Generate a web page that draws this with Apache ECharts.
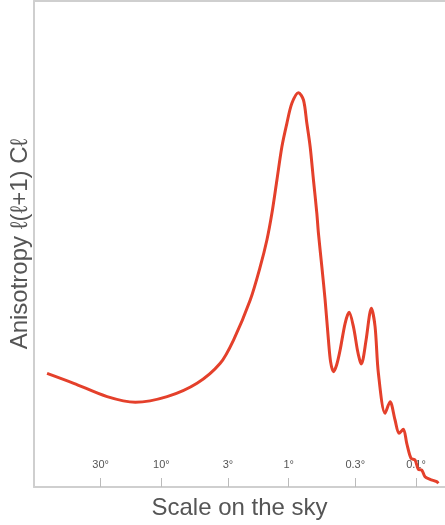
<!DOCTYPE html>
<html>
<head>
<meta charset="utf-8">
<script src="https://cdn.jsdelivr.net/npm/echarts@6/dist/echarts.min.js"></script>
<style>html,body{margin:0;padding:0;background:#fff;}#c{width:445px;height:525px;}</style>
</head>
<body>
<div id="c"></div>
<script>
// multipole ℓ and power ℓ(ℓ+1)Cℓ (arbitrary μK²-like units)
const ell = [2.28, 3.69, 6.75, 11.25, 19.96, 34.3, 52.2, 66.4, 89.8, 107.6, 121.4, 132.9, 145.5, 159.2, 174.2, 190.7, 214.9, 235.2, 250.0, 265.4, 281.7, 299.5, 308.3, 327.8, 347.9, 369.4, 384.3, 404.3, 428.2, 456.2, 499.4, 536.8, 580.2, 623.6, 646.7, 666.7, 691.3, 729.6, 802.9, 858.3, 911.0, 1028.4, 1125.6, 1231.9, 1324, 1431.4, 1521.9, 1644.7, 1768, 1876.2, 1995.8, 2118, 2318.5, 2616.8, 2693];
const power = [1637, 1494, 1301, 1220, 1301, 1494, 1782, 2117, 2693, 3173, 3558, 3942, 4422, 4901, 5238, 5526, 5679, 5574, 5238, 4901, 4422, 3942, 3654, 3173, 2693, 2117, 1800, 1661, 1757, 1973, 2358, 2516, 2309, 1973, 1844, 1772, 1844, 2117, 2574, 2309, 1642, 1061, 1229, 965, 773, 831, 629, 413, 389, 255, 245, 148, 111, 76, 53];
// tick labels: angular scale in degrees
const tickDegrees = [30, 10, 3, 1, 0.3, 0.1];
const tickLabels = ['30°', '10°', '3°', '1°', '0.3°', '0.1°'];

const toX = l => Math.log10(l);
const degToX = d => Math.log10(180 / d);
const xMin = Math.log10(1.8);
const xMax = 3.4828;

const seriesData = ell.map((l, i) => [toX(l), power[i]]);
const tickPos = tickDegrees.map(degToX);

const chart = echarts.init(document.getElementById('c'));
chart.setOption({
  animation: false,
  grid: { left: 33, top: 1, right: 0, bottom: 38 },
  xAxis: [{
    type: 'value', min: xMin, max: xMax, position: 'bottom',
    name: 'Scale on the sky', nameLocation: 'middle', nameGap: 9,
    nameTextStyle: { fontSize: 24, color: '#555', fontFamily: 'Liberation Sans', verticalAlign: 'top' },
    axisLine: { lineStyle: { color: '#cfcfcf', width: 2 } },
    axisTick: { show: true, inside: true, length: 9, customValues: tickPos, lineStyle: { color: '#bbb', width: 1 } },
    axisLabel: { show: true, inside: true, margin: 17, customValues: tickPos,
      formatter: v => { let i = tickPos.findIndex(t => Math.abs(t - v) < 1e-6); return i >= 0 ? tickLabels[i] : ''; },
      fontSize: 11, color: '#555', fontFamily: 'Liberation Sans' },
    splitLine: { show: false }
  }, {
    type: 'value', min: xMin, max: xMax, position: 'top',
    axisLine: { show: true, lineStyle: { color: '#cfcfcf', width: 2 } },
    axisTick: { show: false }, axisLabel: { show: false }, splitLine: { show: false }
  }],
  yAxis: {
    type: 'value', min: 0, max: 7000,
    name: 'Anisotropy ℓ(ℓ+1) Cℓ', nameLocation: 'middle', nameGap: 2,
    nameTextStyle: { fontSize: 24, color: '#555', fontFamily: 'Liberation Sans' },
    axisLine: { show: true, lineStyle: { color: '#cfcfcf', width: 2 } },
    axisTick: { show: false }, axisLabel: { show: false }, splitLine: { show: false }
  },
  series: [{
    type: 'line', data: seriesData, smooth: 0.3, showSymbol: false, z: 5,
    lineStyle: { color: '#e4402b', width: 3 }
  }]
});
</script>
</body>
</html>
